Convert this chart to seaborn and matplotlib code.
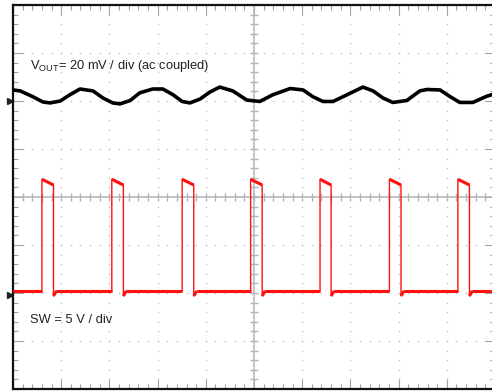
import numpy as np
import pandas as pd
import matplotlib
matplotlib.use('Agg')
import matplotlib.pyplot as plt
import seaborn as sns

# scope screenshot: x in time divisions (0-10), y in vertical divisions (-4..4)

# V_OUT ripple trace (ch1)
vout_t = [0.00, 0.15, 0.41, 0.62, 0.77, 0.98, 1.18, 1.39, 1.66, 1.87, 2.07, 2.22,
          2.43, 2.63, 2.90, 3.11, 3.32, 3.51, 3.67, 3.88, 4.09, 4.29, 4.56, 4.85,
          5.12, 5.39, 5.75, 6.02, 6.22, 6.43, 6.64, 6.93, 7.26, 7.47, 7.68, 7.88,
          8.17, 8.44, 8.59, 8.86, 9.07, 9.27, 9.54, 9.83, 10.0]
vout_v = [2.23, 2.21, 2.09, 1.98, 1.96, 2.00, 2.13, 2.25, 2.21, 2.06, 1.96, 1.94,
          2.01, 2.17, 2.25, 2.25, 2.13, 1.99, 1.96, 2.04, 2.19, 2.29, 2.21, 2.02,
          1.99, 2.13, 2.26, 2.23, 2.09, 1.99, 1.99, 2.13, 2.29, 2.21, 2.06, 1.97,
          2.01, 2.21, 2.24, 2.23, 2.09, 1.97, 1.97, 2.10, 2.15]

# SW node trace (ch2)
sw_rise = [0.60, 2.05, 3.51, 4.93, 6.37, 7.81, 9.23]
sw_fall = [0.84, 2.29, 3.75, 5.17, 6.60, 8.05, 9.47]
sw_low = -1.96
sw_top_start = 0.37
sw_top_end = 0.25
sw_undershoot = -2.06

ch1_ref = 2.0
ch2_ref = -2.04

label_vout = r'$\mathregular{V_{OUT}}$= 20 mV / div (ac coupled)'
label_sw = 'SW = 5 V / div'

sns.set_theme(style='white')
plt.rcParams['font.family'] = ['Liberation Sans', 'DejaVu Sans']

fig = plt.figure(figsize=(4.92, 3.91), dpi=100)
ax = fig.add_axes([13 / 492, 2 / 391, 482 / 492, 384 / 391])
ax.set_xlim(0, 10)
ax.set_ylim(-4, 4)

# dotted graticule
for gx in range(1, 10):
    if gx == 5:
        continue
    ys = np.arange(-4, 4.01, 0.2)
    ax.plot(np.full_like(ys, gx), ys, ls='none', marker='s', ms=1.0,
            color='#c0c0c0', mew=0)
for gy in range(-3, 4):
    if gy == 0:
        continue
    xs = np.arange(0, 10.01, 0.2)
    ax.plot(xs, np.full_like(xs, gy), ls='none', marker='s', ms=1.0,
            color='#c0c0c0', mew=0)

# centre cross with minor ticks
ax.axhline(0, color='#b4b4b4', lw=1.1, zorder=1)
ax.axvline(5, color='#b4b4b4', lw=1.1, zorder=1)
xs = np.arange(0.2, 10, 0.2)
ax.plot(xs, np.zeros_like(xs), ls='none', marker='|', ms=6, mew=1.0,
        color='#b4b4b4', zorder=1)
ys = np.arange(-3.8, 4, 0.2)
ax.plot(np.full_like(ys, 5), ys, ls='none', marker='_', ms=6, mew=1.0,
        color='#b4b4b4', zorder=1)

# border ticks
ax.set_xticks(range(0, 11))
ax.set_yticks(range(-4, 5))
ax.set_xticks(np.arange(0, 10.01, 0.2), minor=True)
ax.set_yticks(np.arange(-4, 4.01, 0.2), minor=True)
ax.tick_params(which='both', direction='in', top=True, bottom=True,
               left=True, right=True, labelbottom=False, labelleft=False,
               color='#a0a0a0', width=0.8)
ax.tick_params(which='major', length=7)
ax.tick_params(which='minor', length=3.5)
for side in ['top', 'bottom', 'left', 'right']:
    ax.spines[side].set_color('#111111')
    ax.spines[side].set_linewidth(1.6)

# SW trace
sw_x, sw_y = [0.0], [sw_low]
for r, f in zip(sw_rise, sw_fall):
    sw_x += [r, r, f, f, f + 0.06]
    sw_y += [sw_low, sw_top_start, sw_top_end, sw_undershoot, sw_low]
sw_x.append(10.0)
sw_y.append(sw_low)
sw = pd.DataFrame({'t': sw_x, 'v': sw_y})
sns.lineplot(data=sw, x='t', y='v', sort=False, estimator=None,
             color='#ff1010', lw=1.0, ax=ax, zorder=3)
# thicker (noisy) flat parts
for i in range(len(sw_x) - 1):
    if sw_x[i + 1] != sw_x[i]:
        ax.plot(sw_x[i:i + 2], sw_y[i:i + 2], color='#ff1010', lw=2.2,
                solid_capstyle='butt', zorder=3)

# V_OUT trace
vout = pd.DataFrame({'t': vout_t, 'v': vout_v})
sns.lineplot(data=vout, x='t', y='v', sort=False, estimator=None,
             color='black', lw=2.6, ax=ax, zorder=4)
ax.lines[-1].set_solid_joinstyle('round')

# channel reference markers
ax.plot([-0.07], [ch1_ref], marker='>', ms=4.5, color='#222222',
        clip_on=False, ls='none')
ax.plot([-0.07], [ch2_ref], marker='>', ms=4.5, color='#222222',
        clip_on=False, ls='none')

ax.text(0.35, 2.66, label_vout, fontsize=9.3, color='#222222', va='baseline')
ax.text(0.35, -2.63, label_sw, fontsize=9.3, color='#222222', va='baseline')

ax.set_xlabel('')
ax.set_ylabel('')
fig.savefig('out.png', dpi=100)
